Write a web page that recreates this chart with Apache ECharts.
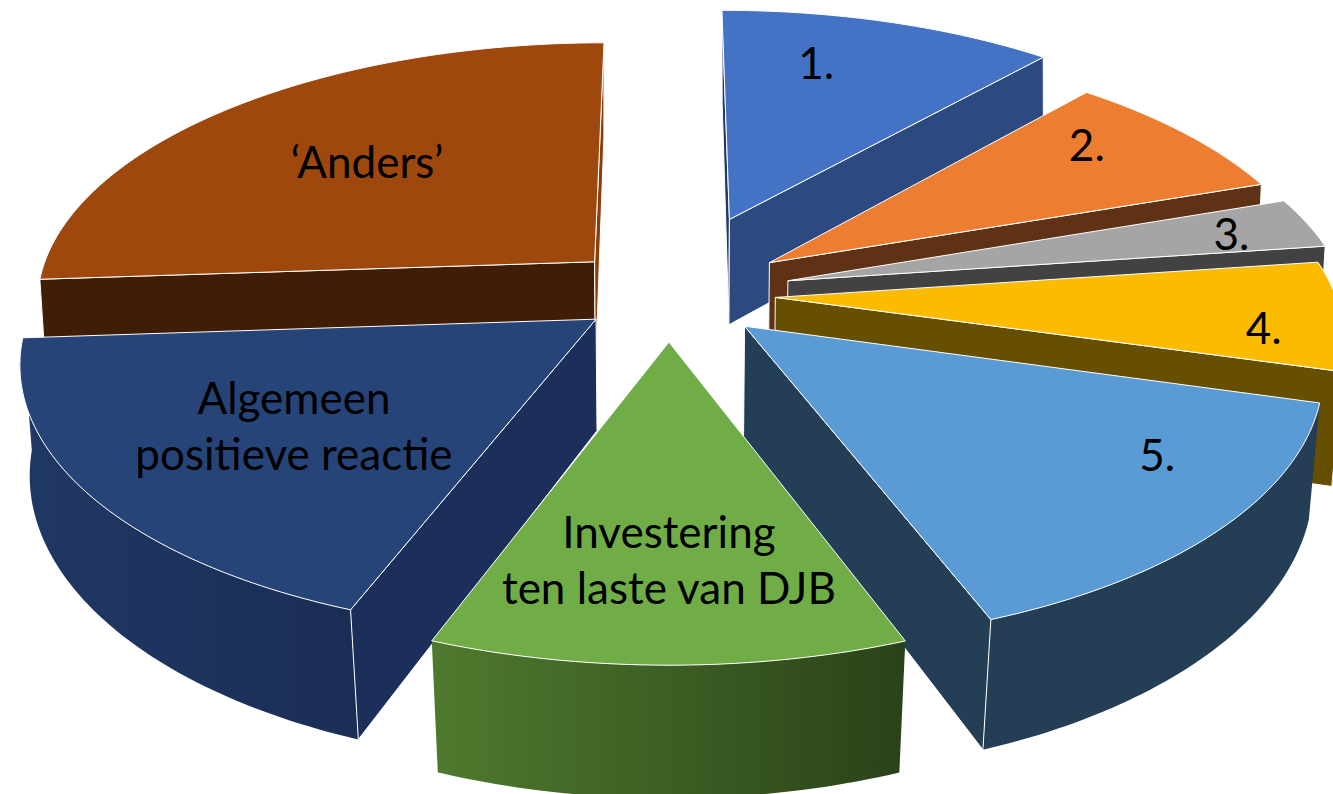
<!DOCTYPE html>
<html>
<head>
<meta charset="utf-8">
<title>Reacties</title>
<style>
  html, body { margin: 0; height: 100%; background: #ffffff; overflow: hidden; }
  #chart { width: 1333px; height: 794px; }
  #chart text { font-variant-ligatures: none; }
</style>
<script src="https://cdn.jsdelivr.net/npm/echarts@6/dist/echarts.min.js"></script>
</head>
<body>
<div id="chart"></div>
<script>
// clockwise from 12 o'clock
const categories = ['1.', '2.', '3.', '4.', '5.', 'Investering\nten laste van DJB', 'Algemeen\npositieve reactie', '‘Anders’']
const values = [11.45, 8.25, 3.1, 6.6, 14.86, 11.5, 18.14, 26.1]

const topColors = ['#4472c4', '#ed7d31', '#a5a5a5', '#fbbc00', '#5b9bd5', '#70ad47', '#264478', '#9e480e']
const wallFrom = ['#2d4a80', '#5f3216', '#424242', '#664f00', '#243f55', '#4f7a2e', '#203864', '#3f1d06']
const wallTo = ['#2d4a80', '#5f3216', '#424242', '#664f00', '#243f55', '#2a4219', '#1a2d55', '#3f1d06']
const startFaceColors = ['#223a66', '#5f3216', '#424242', '#664f00', '#243f55', '#4f7a2e', '#1c2f5a', '#3f1d06']
const endFaceColors = ['#2d4a80', '#5f3216', '#424242', '#664f00', '#243f55', '#2a4219', '#203864', '#8a3f0c']

// layout of the tilted pie
const explode = [0.32, 0.22, 0.22, 0.19, 0.18, 0.18, 0.16, 0.185]
const paintOrder = [7, 0, 1, 2, 3, 6, 4, 5]
const labelAngle = [14.6, 51.2, 77, 97.5, 123.5, 180, 233, 313.5]
const labelRadius = [0.754, 0.812, 0.848, 0.86, 0.8, 0.705, 0.62, 0.617]
const cx = 669
const cy = 294
const radiusX = 560
const radiusY = 260
const perspective = 0.147
const depth = 110

const total = values.reduce((sum, v) => sum + v, 0)
const starts = []
values.reduce((acc, v, i) => {
  starts[i] = acc
  return acc + (v / total) * 360
}, 0)

function project(index, r, deg, bottom) {
  const mid = starts[index] + (values[index] / total) * 180
  const rad = (deg * Math.PI) / 180
  const midRad = (mid * Math.PI) / 180
  const u = r * Math.sin(rad) + explode[index] * Math.sin(midRad)
  const v = -r * Math.cos(rad) - explode[index] * Math.cos(midRad)
  const s = 1 / (1 - perspective * v)
  // the underside sits further from the camera, most of all at the front
  const shrink = bottom ? 0.988 - 0.012 * v : 1
  const x = radiusX * u * s * shrink
  const y = radiusY * v * s + (bottom ? depth * s : 0)
  return [cx + x, cy + y]
}

function arcPoints(index, from, to, bottom) {
  const points = []
  for (let a = from; a < to; a += 1) {
    points.push(project(index, 1, a, bottom))
  }
  points.push(project(index, 1, to, bottom))
  return points
}

function renderSlice(params) {
  const i = params.dataIndex
  const start = starts[i]
  const end = start + (values[i] / total) * 360
  const rank = paintOrder.indexOf(i) * 10
  const line = { stroke: '#ffffff', lineWidth: 1 }
  const apexTop = project(i, 0, start, false)
  const apexBottom = project(i, 0, start, true)
  const children = []

  // a cut face or outer wall is only seen when it turns towards the viewer
  const wallStart = Math.max(start, 90)
  const wallEnd = Math.min(end, 270)
  if (wallStart < wallEnd) {
    const wallTop = arcPoints(i, wallStart, wallEnd, false)
    const wallBottom = arcPoints(i, wallStart, wallEnd, true)
    children.push({
      type: 'polygon',
      z2: rank,
      shape: { points: wallTop.concat(wallBottom.reverse()) },
      style: {
        fill: {
          type: 'linear', x: 0, y: 0, x2: 1, y2: 0,
          colorStops: [{ offset: 0, color: wallFrom[i] }, { offset: 1, color: wallTo[i] }]
        }
      }
    })
  }
  if (start > 180 || start < 1) {
    children.push({
      type: 'polygon',
      z2: rank + 1,
      shape: { points: [apexTop, project(i, 1, start, false), project(i, 1, start, true), apexBottom] },
      style: { fill: startFaceColors[i], ...line }
    })
  }
  if (end < 180 || end > 359) {
    children.push({
      type: 'polygon',
      z2: rank + 2,
      shape: { points: [apexTop, project(i, 1, end, false), project(i, 1, end, true), apexBottom] },
      style: { fill: endFaceColors[i], ...line }
    })
  }
  children.push({
    type: 'polygon',
    z2: rank + 3,
    shape: { points: [apexTop].concat(arcPoints(i, start, end, false)) },
    style: { fill: topColors[i], ...line }
  })

  const labelAt = project(i, labelRadius[i], labelAngle[i], false)
  children.push({
    type: 'text',
    z2: 200,
    x: labelAt[0],
    y: labelAt[1],
    style: {
      text: categories[i],
      fill: '#000000',
      font: '44px Lato, "Open Sans", sans-serif',
      lineHeight: 56,
      align: 'center',
      verticalAlign: 'middle'
    }
  })
  return { type: 'group', children }
}

const chart = echarts.init(document.getElementById('chart'), null, { renderer: 'svg' })
chart.setOption({
  animation: false,
  series: [
    {
      type: 'custom',
      coordinateSystem: 'none',
      renderItem: renderSlice,
      data: values
    }
  ]
})
</script>
</body>
</html>
